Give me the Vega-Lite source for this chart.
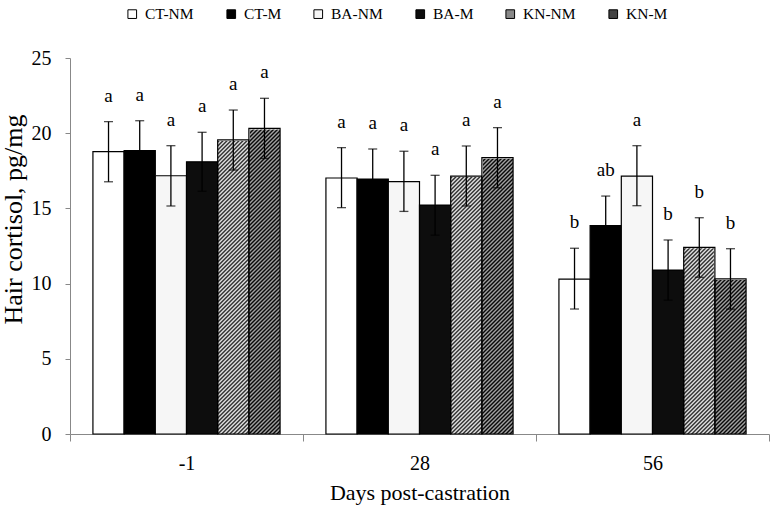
{
"$schema":"https://vega.github.io/schema/vega-lite/v6.json",
"width":699,"height":376,
"autosize":{"type":"none"},
"padding":{"left":70,"top":58,"right":2,"bottom":72},
"background":"white",
"config":{
"view":{"stroke":null},
"font":"Liberation Serif",
"axis":{"labelFont":"Liberation Serif","titleFont":"Liberation Serif","grid":false,"domainColor":"#888","tickColor":"#888","domainWidth":1,"tickWidth":1,"labelColor":"#000","titleColor":"#000","titleFontWeight":"normal"},
"axisX":{"tickSize":7,"labelFontSize":20,"labelPadding":12.5,"labelAngle":0,"titleFontSize":22,"titlePadding":9,"tickBand":"extent"},
"axisY":{"tickSize":5,"labelFontSize":20,"labelPadding":14,"titleFontSize":26,"titleX":-57,"titleY":161,"titleAngle":-90,"titleBaseline":"middle","titleAlign":"center","tickCount":5}
},
"data":{"values":[
{"day":"-1","series":"CT-NM","mean":18.77,"lo":16.77,"hi":20.77,"sig":"a"},
{"day":"-1","series":"CT-M","mean":18.84,"lo":16.85,"hi":20.83,"sig":"a"},
{"day":"-1","series":"BA-NM","mean":17.17,"lo":15.16,"hi":19.17,"sig":"a"},
{"day":"-1","series":"BA-M","mean":18.1,"lo":16.14,"hi":20.06,"sig":"a"},
{"day":"-1","series":"KN-NM","mean":19.55,"lo":17.55,"hi":21.54,"sig":"a"},
{"day":"-1","series":"KN-M","mean":20.32,"lo":18.32,"hi":22.32,"sig":"a"},
{"day":"28","series":"CT-NM","mean":17.02,"lo":15.05,"hi":19.04,"sig":"a"},
{"day":"28","series":"CT-M","mean":16.95,"lo":14.95,"hi":18.95,"sig":"a"},
{"day":"28","series":"BA-NM","mean":16.78,"lo":14.8,"hi":18.8,"sig":"a"},
{"day":"28","series":"BA-M","mean":15.22,"lo":13.22,"hi":17.2,"sig":"a"},
{"day":"28","series":"KN-NM","mean":17.15,"lo":15.16,"hi":19.15,"sig":"a"},
{"day":"28","series":"KN-M","mean":18.37,"lo":16.37,"hi":20.37,"sig":"a"},
{"day":"56","series":"CT-NM","mean":10.3,"lo":8.31,"hi":12.35,"sig":"b"},
{"day":"56","series":"CT-M","mean":13.85,"lo":11.86,"hi":15.82,"sig":"ab"},
{"day":"56","series":"BA-NM","mean":17.15,"lo":15.18,"hi":19.17,"sig":"a"},
{"day":"56","series":"BA-M","mean":10.9,"lo":8.9,"hi":12.9,"sig":"b"},
{"day":"56","series":"KN-NM","mean":12.41,"lo":10.42,"hi":14.38,"sig":"b"},
{"day":"56","series":"KN-M","mean":10.31,"lo":8.3,"hi":12.32,"sig":"b"}
]},
"encoding":{
"x":{"field":"day","type":"ordinal","sort":["-1","28","56"],"scale":{"paddingInner":0,"paddingOuter":0},"title":"Days post-castration"},
"xOffset":{"field":"series","type":"nominal","sort":["CT-NM","CT-M","BA-NM","BA-M","KN-NM","KN-M"],"scale":{"paddingInner":0,"paddingOuter":0.735}}
},
"layer":[
{"transform":[{"filter":"datum.series==='KN-NM'"}],
"mark":{"type":"bar","fill":{"gradient":"linear","x1":0,"y1":0,"x2":0.109555,"y2":1.320704,"stops":[
{"offset":0.136,"color":"#111"},{"offset":0.14,"color":"#fff"},{"offset":0.144,"color":"#111"},{"offset":0.148,"color":"#fff"},{"offset":0.152,"color":"#111"},{"offset":0.156,"color":"#fff"},{"offset":0.16,"color":"#111"},{"offset":0.164,"color":"#fff"},{"offset":0.168,"color":"#111"},{"offset":0.172,"color":"#fff"},
{"offset":0.176,"color":"#111"},{"offset":0.18,"color":"#fff"},{"offset":0.184,"color":"#111"},{"offset":0.188,"color":"#fff"},{"offset":0.192,"color":"#111"},{"offset":0.196,"color":"#fff"},{"offset":0.2,"color":"#111"},{"offset":0.204,"color":"#fff"},{"offset":0.208,"color":"#111"},{"offset":0.212,"color":"#fff"},
{"offset":0.216,"color":"#111"},{"offset":0.22,"color":"#fff"},{"offset":0.224,"color":"#111"},{"offset":0.228,"color":"#fff"},{"offset":0.232,"color":"#111"},{"offset":0.236,"color":"#fff"},{"offset":0.24,"color":"#111"},{"offset":0.244,"color":"#fff"},{"offset":0.248,"color":"#111"},{"offset":0.252,"color":"#fff"},
{"offset":0.256,"color":"#111"},{"offset":0.26,"color":"#fff"},{"offset":0.264,"color":"#111"},{"offset":0.268,"color":"#fff"},{"offset":0.272,"color":"#111"},{"offset":0.276,"color":"#fff"},{"offset":0.28,"color":"#111"},{"offset":0.284,"color":"#fff"},{"offset":0.288,"color":"#111"},{"offset":0.292,"color":"#fff"},
{"offset":0.296,"color":"#111"},{"offset":0.3,"color":"#fff"},{"offset":0.304,"color":"#111"},{"offset":0.308,"color":"#fff"},{"offset":0.312,"color":"#111"},{"offset":0.316,"color":"#fff"},{"offset":0.32,"color":"#111"},{"offset":0.324,"color":"#fff"},{"offset":0.328,"color":"#111"},{"offset":0.332,"color":"#fff"},
{"offset":0.336,"color":"#111"},{"offset":0.34,"color":"#fff"},{"offset":0.344,"color":"#111"},{"offset":0.348,"color":"#fff"},{"offset":0.352,"color":"#111"},{"offset":0.356,"color":"#fff"},{"offset":0.36,"color":"#111"},{"offset":0.364,"color":"#fff"},{"offset":0.368,"color":"#111"},{"offset":0.372,"color":"#fff"},
{"offset":0.376,"color":"#111"},{"offset":0.38,"color":"#fff"},{"offset":0.384,"color":"#111"},{"offset":0.388,"color":"#fff"},{"offset":0.392,"color":"#111"},{"offset":0.396,"color":"#fff"},{"offset":0.4,"color":"#111"},{"offset":0.404,"color":"#fff"},{"offset":0.408,"color":"#111"},{"offset":0.412,"color":"#fff"},
{"offset":0.416,"color":"#111"},{"offset":0.42,"color":"#fff"},{"offset":0.424,"color":"#111"},{"offset":0.428,"color":"#fff"},{"offset":0.432,"color":"#111"},{"offset":0.436,"color":"#fff"},{"offset":0.44,"color":"#111"},{"offset":0.444,"color":"#fff"},{"offset":0.448,"color":"#111"},{"offset":0.452,"color":"#fff"},
{"offset":0.456,"color":"#111"},{"offset":0.46,"color":"#fff"},{"offset":0.464,"color":"#111"},{"offset":0.468,"color":"#fff"},{"offset":0.472,"color":"#111"},{"offset":0.476,"color":"#fff"},{"offset":0.48,"color":"#111"},{"offset":0.484,"color":"#fff"},{"offset":0.488,"color":"#111"},{"offset":0.492,"color":"#fff"},
{"offset":0.496,"color":"#111"},{"offset":0.5,"color":"#fff"},{"offset":0.504,"color":"#111"},{"offset":0.508,"color":"#fff"},{"offset":0.512,"color":"#111"},{"offset":0.516,"color":"#fff"},{"offset":0.52,"color":"#111"},{"offset":0.524,"color":"#fff"},{"offset":0.528,"color":"#111"},{"offset":0.532,"color":"#fff"},
{"offset":0.536,"color":"#111"},{"offset":0.54,"color":"#fff"},{"offset":0.544,"color":"#111"},{"offset":0.548,"color":"#fff"},{"offset":0.552,"color":"#111"},{"offset":0.556,"color":"#fff"},{"offset":0.56,"color":"#111"},{"offset":0.564,"color":"#fff"},{"offset":0.568,"color":"#111"},{"offset":0.572,"color":"#fff"},
{"offset":0.576,"color":"#111"},{"offset":0.58,"color":"#fff"},{"offset":0.584,"color":"#111"},{"offset":0.588,"color":"#fff"},{"offset":0.592,"color":"#111"},{"offset":0.596,"color":"#fff"},{"offset":0.6,"color":"#111"},{"offset":0.604,"color":"#fff"},{"offset":0.608,"color":"#111"},{"offset":0.612,"color":"#fff"},
{"offset":0.616,"color":"#111"},{"offset":0.62,"color":"#fff"},{"offset":0.624,"color":"#111"},{"offset":0.628,"color":"#fff"},{"offset":0.632,"color":"#111"},{"offset":0.636,"color":"#fff"},{"offset":0.64,"color":"#111"},{"offset":0.644,"color":"#fff"},{"offset":0.648,"color":"#111"},{"offset":0.652,"color":"#fff"},
{"offset":0.656,"color":"#111"},{"offset":0.66,"color":"#fff"},{"offset":0.664,"color":"#111"},{"offset":0.668,"color":"#fff"},{"offset":0.672,"color":"#111"},{"offset":0.676,"color":"#fff"},{"offset":0.68,"color":"#111"},{"offset":0.684,"color":"#fff"},{"offset":0.688,"color":"#111"},{"offset":0.692,"color":"#fff"},
{"offset":0.696,"color":"#111"},{"offset":0.7,"color":"#fff"},{"offset":0.704,"color":"#111"},{"offset":0.708,"color":"#fff"},{"offset":0.712,"color":"#111"},{"offset":0.716,"color":"#fff"},{"offset":0.72,"color":"#111"},{"offset":0.724,"color":"#fff"},{"offset":0.728,"color":"#111"},{"offset":0.732,"color":"#fff"},
{"offset":0.736,"color":"#111"},{"offset":0.74,"color":"#fff"},{"offset":0.744,"color":"#111"},{"offset":0.748,"color":"#fff"},{"offset":0.752,"color":"#111"},{"offset":0.756,"color":"#fff"},{"offset":0.76,"color":"#111"},{"offset":0.764,"color":"#fff"},{"offset":0.768,"color":"#111"},{"offset":0.772,"color":"#fff"},
{"offset":0.776,"color":"#111"},{"offset":0.78,"color":"#fff"},{"offset":0.784,"color":"#111"},{"offset":0.788,"color":"#fff"},{"offset":0.792,"color":"#111"},{"offset":0.796,"color":"#fff"},{"offset":0.8,"color":"#111"},{"offset":0.804,"color":"#fff"},{"offset":0.808,"color":"#111"},{"offset":0.812,"color":"#fff"},
{"offset":0.816,"color":"#111"},{"offset":0.82,"color":"#fff"}
]}},
"encoding":{"y":{"datum":0,"type":"quantitative","title":"Hair cortisol, pg/mg","scale":{"domain":[0,25],"nice":false}},"y2":{"datum":25}}},
{"transform":[{"filter":"datum.series==='KN-M'"}],
"mark":{"type":"bar","fill":{"gradient":"linear","x1":0,"y1":0,"x2":0.109555,"y2":1.320704,"stops":[
{"offset":0.136,"color":"#000"},{"offset":0.14,"color":"#aaa"},{"offset":0.144,"color":"#000"},{"offset":0.148,"color":"#aaa"},{"offset":0.152,"color":"#000"},{"offset":0.156,"color":"#aaa"},{"offset":0.16,"color":"#000"},{"offset":0.164,"color":"#aaa"},{"offset":0.168,"color":"#000"},{"offset":0.172,"color":"#aaa"},
{"offset":0.176,"color":"#000"},{"offset":0.18,"color":"#aaa"},{"offset":0.184,"color":"#000"},{"offset":0.188,"color":"#aaa"},{"offset":0.192,"color":"#000"},{"offset":0.196,"color":"#aaa"},{"offset":0.2,"color":"#000"},{"offset":0.204,"color":"#aaa"},{"offset":0.208,"color":"#000"},{"offset":0.212,"color":"#aaa"},
{"offset":0.216,"color":"#000"},{"offset":0.22,"color":"#aaa"},{"offset":0.224,"color":"#000"},{"offset":0.228,"color":"#aaa"},{"offset":0.232,"color":"#000"},{"offset":0.236,"color":"#aaa"},{"offset":0.24,"color":"#000"},{"offset":0.244,"color":"#aaa"},{"offset":0.248,"color":"#000"},{"offset":0.252,"color":"#aaa"},
{"offset":0.256,"color":"#000"},{"offset":0.26,"color":"#aaa"},{"offset":0.264,"color":"#000"},{"offset":0.268,"color":"#aaa"},{"offset":0.272,"color":"#000"},{"offset":0.276,"color":"#aaa"},{"offset":0.28,"color":"#000"},{"offset":0.284,"color":"#aaa"},{"offset":0.288,"color":"#000"},{"offset":0.292,"color":"#aaa"},
{"offset":0.296,"color":"#000"},{"offset":0.3,"color":"#aaa"},{"offset":0.304,"color":"#000"},{"offset":0.308,"color":"#aaa"},{"offset":0.312,"color":"#000"},{"offset":0.316,"color":"#aaa"},{"offset":0.32,"color":"#000"},{"offset":0.324,"color":"#aaa"},{"offset":0.328,"color":"#000"},{"offset":0.332,"color":"#aaa"},
{"offset":0.336,"color":"#000"},{"offset":0.34,"color":"#aaa"},{"offset":0.344,"color":"#000"},{"offset":0.348,"color":"#aaa"},{"offset":0.352,"color":"#000"},{"offset":0.356,"color":"#aaa"},{"offset":0.36,"color":"#000"},{"offset":0.364,"color":"#aaa"},{"offset":0.368,"color":"#000"},{"offset":0.372,"color":"#aaa"},
{"offset":0.376,"color":"#000"},{"offset":0.38,"color":"#aaa"},{"offset":0.384,"color":"#000"},{"offset":0.388,"color":"#aaa"},{"offset":0.392,"color":"#000"},{"offset":0.396,"color":"#aaa"},{"offset":0.4,"color":"#000"},{"offset":0.404,"color":"#aaa"},{"offset":0.408,"color":"#000"},{"offset":0.412,"color":"#aaa"},
{"offset":0.416,"color":"#000"},{"offset":0.42,"color":"#aaa"},{"offset":0.424,"color":"#000"},{"offset":0.428,"color":"#aaa"},{"offset":0.432,"color":"#000"},{"offset":0.436,"color":"#aaa"},{"offset":0.44,"color":"#000"},{"offset":0.444,"color":"#aaa"},{"offset":0.448,"color":"#000"},{"offset":0.452,"color":"#aaa"},
{"offset":0.456,"color":"#000"},{"offset":0.46,"color":"#aaa"},{"offset":0.464,"color":"#000"},{"offset":0.468,"color":"#aaa"},{"offset":0.472,"color":"#000"},{"offset":0.476,"color":"#aaa"},{"offset":0.48,"color":"#000"},{"offset":0.484,"color":"#aaa"},{"offset":0.488,"color":"#000"},{"offset":0.492,"color":"#aaa"},
{"offset":0.496,"color":"#000"},{"offset":0.5,"color":"#aaa"},{"offset":0.504,"color":"#000"},{"offset":0.508,"color":"#aaa"},{"offset":0.512,"color":"#000"},{"offset":0.516,"color":"#aaa"},{"offset":0.52,"color":"#000"},{"offset":0.524,"color":"#aaa"},{"offset":0.528,"color":"#000"},{"offset":0.532,"color":"#aaa"},
{"offset":0.536,"color":"#000"},{"offset":0.54,"color":"#aaa"},{"offset":0.544,"color":"#000"},{"offset":0.548,"color":"#aaa"},{"offset":0.552,"color":"#000"},{"offset":0.556,"color":"#aaa"},{"offset":0.56,"color":"#000"},{"offset":0.564,"color":"#aaa"},{"offset":0.568,"color":"#000"},{"offset":0.572,"color":"#aaa"},
{"offset":0.576,"color":"#000"},{"offset":0.58,"color":"#aaa"},{"offset":0.584,"color":"#000"},{"offset":0.588,"color":"#aaa"},{"offset":0.592,"color":"#000"},{"offset":0.596,"color":"#aaa"},{"offset":0.6,"color":"#000"},{"offset":0.604,"color":"#aaa"},{"offset":0.608,"color":"#000"},{"offset":0.612,"color":"#aaa"},
{"offset":0.616,"color":"#000"},{"offset":0.62,"color":"#aaa"},{"offset":0.624,"color":"#000"},{"offset":0.628,"color":"#aaa"},{"offset":0.632,"color":"#000"},{"offset":0.636,"color":"#aaa"},{"offset":0.64,"color":"#000"},{"offset":0.644,"color":"#aaa"},{"offset":0.648,"color":"#000"},{"offset":0.652,"color":"#aaa"},
{"offset":0.656,"color":"#000"},{"offset":0.66,"color":"#aaa"},{"offset":0.664,"color":"#000"},{"offset":0.668,"color":"#aaa"},{"offset":0.672,"color":"#000"},{"offset":0.676,"color":"#aaa"},{"offset":0.68,"color":"#000"},{"offset":0.684,"color":"#aaa"},{"offset":0.688,"color":"#000"},{"offset":0.692,"color":"#aaa"},
{"offset":0.696,"color":"#000"},{"offset":0.7,"color":"#aaa"},{"offset":0.704,"color":"#000"},{"offset":0.708,"color":"#aaa"},{"offset":0.712,"color":"#000"},{"offset":0.716,"color":"#aaa"},{"offset":0.72,"color":"#000"},{"offset":0.724,"color":"#aaa"},{"offset":0.728,"color":"#000"},{"offset":0.732,"color":"#aaa"},
{"offset":0.736,"color":"#000"},{"offset":0.74,"color":"#aaa"},{"offset":0.744,"color":"#000"},{"offset":0.748,"color":"#aaa"},{"offset":0.752,"color":"#000"},{"offset":0.756,"color":"#aaa"},{"offset":0.76,"color":"#000"},{"offset":0.764,"color":"#aaa"},{"offset":0.768,"color":"#000"},{"offset":0.772,"color":"#aaa"},
{"offset":0.776,"color":"#000"},{"offset":0.78,"color":"#aaa"},{"offset":0.784,"color":"#000"},{"offset":0.788,"color":"#aaa"},{"offset":0.792,"color":"#000"},{"offset":0.796,"color":"#aaa"},{"offset":0.8,"color":"#000"},{"offset":0.804,"color":"#aaa"},{"offset":0.808,"color":"#000"},{"offset":0.812,"color":"#aaa"},
{"offset":0.816,"color":"#000"},{"offset":0.82,"color":"#aaa"}
]}},
"encoding":{"y":{"datum":0,"type":"quantitative","title":"Hair cortisol, pg/mg"},"y2":{"datum":25}}},
{"transform":[{"filter":"indexof(datum.series,'KN')===0"}],
"mark":{"type":"bar","fill":"#fff","stroke":"#fff","strokeWidth":2},
"encoding":{"y":{"field":"mean","type":"quantitative","title":"Hair cortisol, pg/mg"},"y2":{"datum":25}}},
{"mark":{"type":"bar","stroke":"#000","strokeWidth":1.2},
"encoding":{
"y":{"field":"mean","type":"quantitative","title":"Hair cortisol, pg/mg"},
"fill":{"condition":{"test":"indexof(datum.series,'KN')===0","value":"transparent"},"field":"series","type":"nominal",
"scale":{"domain":["CT-NM","CT-M","BA-NM","BA-M","KN-NM","KN-M"],"range":["#fff","#000","#f6f6f6","#0d0d0d","#888","#444"]},
"legend":{"title":null,"orient":"none","direction":"horizontal","legendX":54.5,"legendY":-52,"symbolType":"square","symbolSize":75,"symbolStrokeColor":"#000","symbolStrokeWidth":1,"labelFont":"Liberation Serif","labelFontSize":15.5,"labelColor":"#000","labelOffset":5,"columnPadding":29,"padding":0,
"encode":{"symbols":{"update":{"fill":{"signal":"datum.value==='KN-NM' ? {gradient:'linear',x1:0,y1:0,x2:1,y2:1,stops:[{offset:0,color:'#111'},{offset:0.1155,color:'#fff'},{offset:0.231,color:'#111'},{offset:0.3465,color:'#fff'},{offset:0.462,color:'#111'},{offset:0.5775,color:'#fff'},{offset:0.693,color:'#111'},{offset:0.8085,color:'#fff'},{offset:0.924,color:'#111'},{offset:1,color:'#fff'}]} : datum.value==='KN-M' ? {gradient:'linear',x1:0,y1:0,x2:1,y2:1,stops:[{offset:0,color:'#000'},{offset:0.1155,color:'#aaa'},{offset:0.231,color:'#000'},{offset:0.3465,color:'#aaa'},{offset:0.462,color:'#000'},{offset:0.5775,color:'#aaa'},{offset:0.693,color:'#000'},{offset:0.8085,color:'#aaa'},{offset:0.924,color:'#000'},{offset:1,color:'#aaa'}]} : scale('fill', datum.value)"},"stroke":{"value":"#000"},"strokeWidth":{"value":1},"opacity":{"value":1}}}}}}
}},
{"mark":{"type":"rule","color":"#000","strokeWidth":1.3},
"encoding":{"y":{"field":"lo","type":"quantitative","title":"Hair cortisol, pg/mg"},"y2":{"field":"hi"}}},
{"mark":{"type":"tick","color":"#000","thickness":1.3,"size":9},
"encoding":{"y":{"field":"hi","type":"quantitative","title":"Hair cortisol, pg/mg"}}},
{"mark":{"type":"tick","color":"#000","thickness":1.3,"size":9},
"encoding":{"y":{"field":"lo","type":"quantitative","title":"Hair cortisol, pg/mg"}}},
{"mark":{"type":"text","dy":-20,"baseline":"alphabetic","fontSize":19,"font":"Liberation Serif","color":"#000"},
"encoding":{"y":{"field":"hi","type":"quantitative","title":"Hair cortisol, pg/mg"},"text":{"field":"sig"}}}
]
}
